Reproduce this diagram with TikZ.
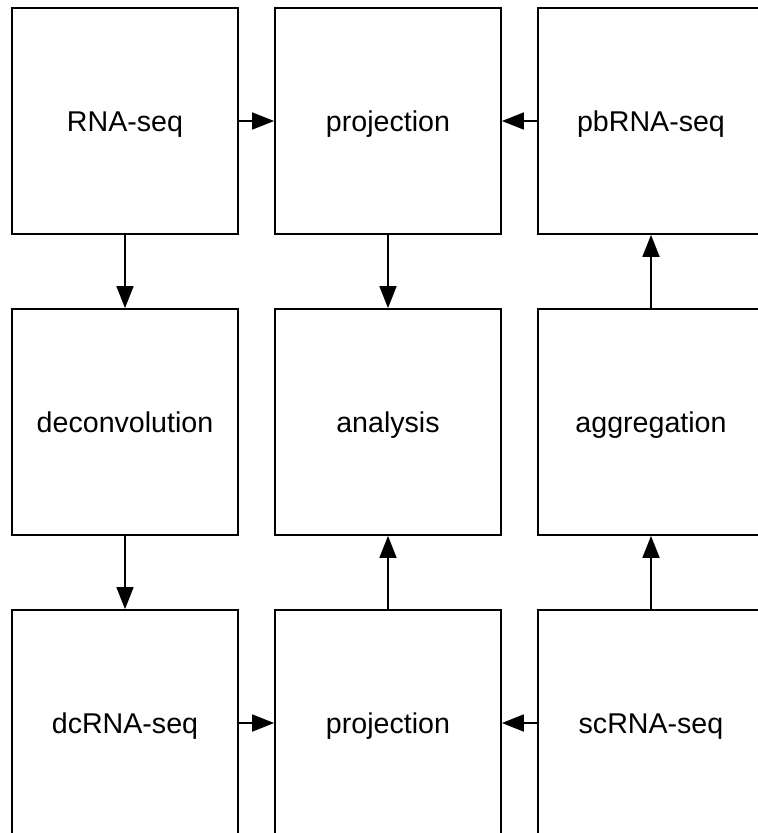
\documentclass[tikz,border=0pt]{standalone}
\usepackage{fontspec}
\setmainfont{Liberation Sans}
\usetikzlibrary{arrows.meta}
\begin{document}
\begin{tikzpicture}[x=1pt,y=-1pt,
  stagebox/.style={draw=black,line width=1.8pt,minimum width=226pt,minimum height=226pt,
    inner sep=0pt,text height=20.4pt,text depth=0pt,font=\fontsize{28.6}{34}\selectfont},
  flow/.style={line width=1.8pt,-{Triangle[length=22pt,width=17pt]}}]
\useasboundingbox (0,0) rectangle (758,833);
% grid of processing stages
\node[stagebox] (rna)    at (125,121) {RNA-seq};
\node[stagebox] (projA)  at (388,121) {projection};
\node[stagebox] (pb)     at (651,121) {pbRNA-seq};
\node[stagebox] (deconv) at (125,422) {deconvolution};
\node[stagebox] (ana)    at (388,422) {analysis};
\node[stagebox] (agg)    at (651,422) {aggregation};
\node[stagebox] (dc)     at (125,723) {dcRNA-seq};
\node[stagebox] (projB)  at (388,723) {projection};
\node[stagebox] (sc)     at (651,723) {scRNA-seq};
% connectors
\draw[flow] (rna.east) -- (projA.west);
\draw[flow] (pb.west) -- (projA.east);
\draw[flow] (rna.south) -- (deconv.north);
\draw[flow] (projA.south) -- (ana.north);
\draw[flow] (agg.north) -- (pb.south);
\draw[flow] (deconv.south) -- (dc.north);
\draw[flow] (projB.north) -- (ana.south);
\draw[flow] (sc.north) -- (agg.south);
\draw[flow] (dc.east) -- (projB.west);
\draw[flow] (sc.west) -- (projB.east);
\end{tikzpicture}
\end{document}
